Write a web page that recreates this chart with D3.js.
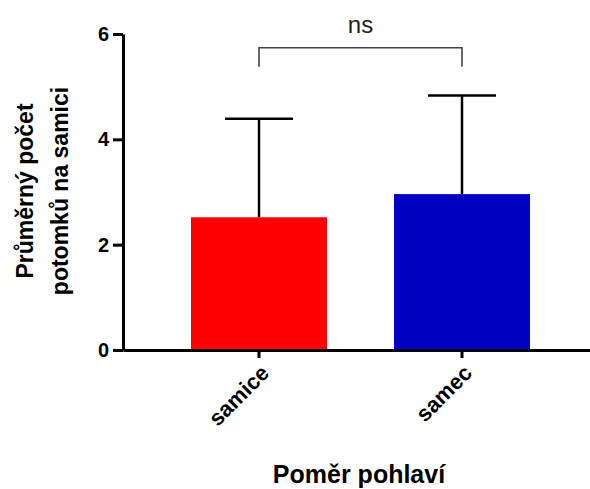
<!DOCTYPE html>
<html>
<head>
<meta charset="utf-8">
<script src="https://cdn.jsdelivr.net/npm/d3@7"></script>
<style>
  body { margin: 0; background: #fff; }
  svg { display: block; font-family: Arial, "Liberation Sans", sans-serif; }
</style>
</head>
<body>
<svg id="chart" width="590" height="489"></svg>
<script>
// data
const groups = ["samice", "samec"];
const means = [2.52, 2.96];
const sds = [1.87, 1.87];
const colors = ["#ff0000", "#0000c0"];
const yTicks = [0, 2, 4, 6];
const sigLabel = "ns";
const sigLevel = [5.74, 5.38]; // bracket top, bracket end

const svg = d3.select("#chart");

let x = d3.scaleBand()
    .domain(groups)
    .range([123, 598])
    .paddingInner(0.33)
    .paddingOuter(0.335);

let y = d3.scaleLinear()
    .domain([0, 6])
    .range([350, 34]);

// bars
svg.selectAll(".bar")
    .data(groups)
    .enter().append("rect")
    .attr("class", "bar")
    .attr("x", d => x(d))
    .attr("y", (d, i) => y(means[i]))
    .attr("width", x.bandwidth())
    .attr("height", (d, i) => y(0) - y(means[i]))
    .attr("fill", (d, i) => colors[i]);

// error bars (upper only)
const cap = x.bandwidth() / 4;
groups.forEach(function (g, i) {
    const cx = x(g) + x.bandwidth() / 2;
    svg.append("line")
        .attr("x1", cx).attr("x2", cx)
        .attr("y1", y(means[i])).attr("y2", y(means[i] + sds[i]))
        .attr("stroke", "#000").attr("stroke-width", 2.5);
    svg.append("line")
        .attr("x1", cx - cap).attr("x2", cx + cap)
        .attr("y1", y(means[i] + sds[i])).attr("y2", y(means[i] + sds[i]))
        .attr("stroke", "#000").attr("stroke-width", 2.5);
});

// y axis
let yAxis = d3.axisLeft(y)
    .tickValues(yTicks)
    .tickSize(10)
    .tickSizeOuter(0)
    .tickPadding(4)
    .tickFormat(d3.format("d"));

const gy = svg.append("g")
    .attr("transform", "translate(123,0)")
    .call(yAxis);
gy.select(".domain").attr("stroke", "#000").attr("stroke-width", 3);
gy.selectAll(".tick line").attr("stroke", "#000").attr("stroke-width", 3);
gy.selectAll(".tick text")
    .attr("fill", "#000")
    .style("font-size", "20px")
    .style("font-weight", "bold")
    .style("font-family", "Arial, 'Liberation Sans', sans-serif");

// x axis
let xAxis = d3.axisBottom(x)
    .tickSize(8)
    .tickSizeOuter(0)
    .tickPadding(4);

const gx = svg.append("g")
    .attr("transform", "translate(0,350)")
    .call(xAxis);
gx.select(".domain").attr("stroke", "#000").attr("stroke-width", 3);
gx.selectAll(".tick line").attr("stroke", "#000").attr("stroke-width", 3);
gx.selectAll(".tick text")
    .attr("fill", "#000")
    .attr("text-anchor", "end")
    .attr("transform", "translate(6,19) rotate(-45)")
    .attr("dy", "0.35em")
    .attr("y", 0)
    .attr("x", 0)
    .style("font-size", "22px")
    .style("font-weight", "bold")
    .style("font-family", "Arial, 'Liberation Sans', sans-serif");

// significance bracket
const bx1 = x(groups[0]) + x.bandwidth() / 2;
const bx2 = x(groups[1]) + x.bandwidth() / 2;
svg.append("path")
    .attr("d", "M" + bx1 + "," + y(sigLevel[1]) + "V" + y(sigLevel[0]) + "H" + bx2 + "V" + y(sigLevel[1]))
    .attr("fill", "none")
    .attr("stroke", "#444")
    .attr("stroke-width", 1.6);
svg.append("text")
    .attr("x", (bx1 + bx2) / 2)
    .attr("y", 33)
    .attr("text-anchor", "middle")
    .style("font-size", "24px")
    .attr("fill", "#222")
    .text(sigLabel);

// axis titles
const yTitle = svg.append("text")
    .attr("transform", "translate(33,191) rotate(-90)")
    .attr("text-anchor", "middle")
    .style("font-size", "23px")
    .style("font-weight", "bold")
    .attr("fill", "#000");
yTitle.append("tspan").attr("x", 0).attr("y", 0).text("Průměrný počet");
yTitle.append("tspan").attr("x", 0).attr("y", 35).text("potomků na samici");

svg.append("text")
    .attr("x", 359)
    .attr("y", 483)
    .attr("text-anchor", "middle")
    .style("font-size", "25px")
    .style("font-weight", "bold")
    .attr("fill", "#000")
    .text("Poměr pohlaví");
</script>
</body>
</html>
